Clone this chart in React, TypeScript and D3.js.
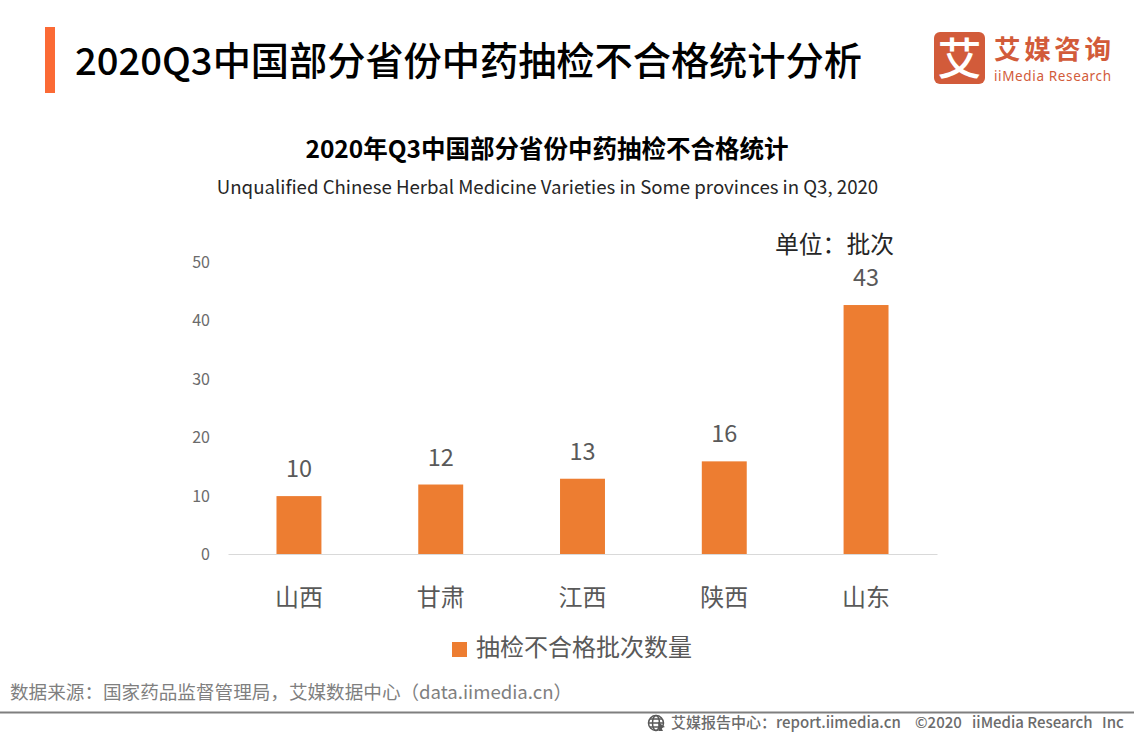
import { useEffect, useRef } from "react";
import * as d3 from "d3";

const provinces = ["山西", "甘肃", "江西", "陕西", "山东"];
const counts = [10, 12, 13, 16, 43];
const yTicks = [0, 10, 20, 30, 40, 50];

const cjk = "'Noto Sans CJK SC', 'Noto Sans', sans-serif";
const width = 1134;
const height = 737;
const plot = { left: 228, right: 937, top: 264.5, bottom: 554 };

export default function App() {
  const axisRef = useRef<SVGGElement>(null);

  const x = d3.scaleBand<string>()
    .domain(provinces)
    .range([plot.left, plot.right])
    .paddingInner(0.683)
    .paddingOuter(0.342);
  const y = d3.scaleLinear().domain([0, 50]).range([plot.bottom, plot.top]);
  // tick labels sit a little wider apart than the bars in the source image
  const yLabels = d3.scaleLinear().domain([0, 50]).range([plot.bottom, 262]);

  useEffect(() => {
    if (!axisRef.current) return;
    const g = d3.select(axisRef.current);
    g.selectAll("*").remove();

    const left = g.append("g")
      .attr("transform", `translate(${plot.left - 18}, 0)`)
      .call(d3.axisLeft(yLabels).tickValues(yTicks).tickSize(0).tickPadding(0));
    left.select(".domain").remove();
    left.selectAll("text")
      .attr("dy", "0.345em")
      .style("font-family", cjk)
      .style("font-size", "16px")
      .style("fill", "#6b6b6b");

    const bottom = g.append("g")
      .attr("transform", `translate(0, ${plot.bottom})`)
      .call(d3.axisBottom(x).tickSize(0).tickPadding(0));
    bottom.select(".domain").attr("stroke", "#d9d9d9").attr("stroke-width", 1);
    bottom.selectAll("text")
      .attr("y", 52)
      .attr("dy", 0)
      .style("font-family", cjk)
      .style("font-size", "24px")
      .style("fill", "#595959");
  }, []);

  return (
    <svg
      width={width}
      height={height}
      style={{ position: "absolute", left: 0, top: 0, background: "#fff" }}
    >
      <rect x={45} y={27} width={10} height={66} fill="#fb6a35" />
      <text x={75} y={75} fontFamily={cjk} fontSize={38.2} fontWeight={500} fill="#000">
        2020Q3中国部分省份中药抽检不合格统计分析
      </text>

      <rect x={934} y={32} width={51} height={52} rx={6} fill="#d25b3a" />
      <text x={959.5} y={75} textAnchor="middle" fontFamily={cjk} fontSize={44} fontWeight={500} fill="#fff">
        艾
      </text>
      <text x={994} y={58.5} fontFamily={cjk} fontSize={26.5} fontWeight={700} fill="#d25b3a" textLength={117}>
        艾媒咨询
      </text>
      <text x={994} y={81} fontFamily="'Noto Sans', sans-serif" fontSize={13.5} fill="#d25b3a" textLength={117}>
        iiMedia Research
      </text>

      <text x={547} y={158} textAnchor="middle" fontFamily={cjk} fontSize={24.5} fontWeight={700} fill="#000">
        2020年Q3中国部分省份中药抽检不合格统计
      </text>
      <text x={547.5} y={194} textAnchor="middle" fontFamily={cjk} fontSize={18.65} fill="#262626">
        Unqualified Chinese Herbal Medicine Varieties in Some provinces in Q3, 2020
      </text>
      <text x={775} y={253} fontFamily={cjk} fontSize={23.8} fill="#262626">
        单位：批次
      </text>

      <g ref={axisRef} />

      {provinces.map((p, i) => (
        <g key={p}>
          <rect
            x={x(p)}
            y={y(counts[i])}
            width={x.bandwidth()}
            height={y(0) - y(counts[i])}
            fill="#ed7d31"
          />
          <text
            x={x(p)! + x.bandwidth() / 2}
            y={y(counts[i]) - 19}
            textAnchor="middle"
            fontFamily={cjk}
            fontSize={23.5}
            fill="#595959"
          >
            {counts[i]}
          </text>
        </g>
      ))}

      <rect x={452} y={642} width={15} height={15} fill="#ed7d31" />
      <text x={476} y={656} fontFamily={cjk} fontSize={24} fill="#595959">
        抽检不合格批次数量
      </text>

      <text x={10} y={699} fontFamily={cjk} fontSize={18.6} fill="#7f7f7f">
        数据来源：国家药品监督管理局，艾媒数据中心（data.iimedia.cn）
      </text>

      <line x1={0} x2={width} y1={712.5} y2={712.5} stroke="#7f7f7f" strokeWidth={2} />
      {/* globe icon in the footer */}
      <g fill="none" stroke="#595959" strokeWidth={1.5}>
        <circle cx={656} cy={723} r={7.5} />
        <ellipse cx={656} cy={723} rx={3.5} ry={7.5} />
        <path d="M648.5 723H663.5M650 719H662M650 727H662" />
      </g>
      <path d="M658 722L665 727L661.5 728L663 731L659 731Z" fill="#595959" />
      <text x={671} y={728} fontFamily={cjk} fontSize={15} fontWeight={500} fill="#6b6b6b">
        艾媒报告中心：report.iimedia.cn
      </text>
      <text x={915} y={728} fontFamily={cjk} fontSize={15} fontWeight={500} fill="#6b6b6b">
        ©2020
      </text>
      <text x={972} y={728} fontFamily={cjk} fontSize={15} fontWeight={500} fill="#6b6b6b">
        iiMedia Research
      </text>
      <text x={1102} y={728} fontFamily={cjk} fontSize={15} fontWeight={500} fill="#6b6b6b">
        Inc
      </text>
    </svg>
  );
}
